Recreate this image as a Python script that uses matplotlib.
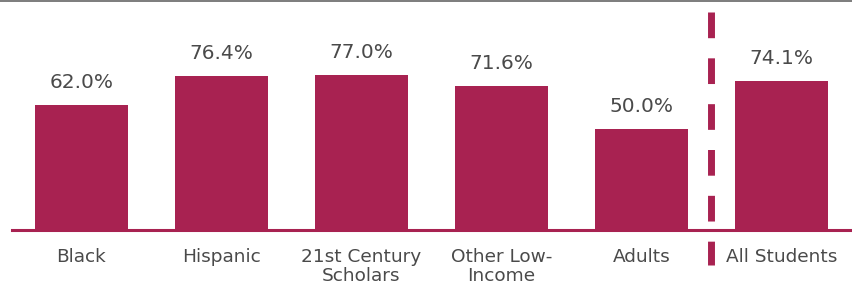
import matplotlib
matplotlib.use("Agg")
import matplotlib.pyplot as plt
from matplotlib.lines import Line2D

categories = ["Black", "Hispanic", "21st Century\nScholars", "Other Low-\nIncome", "Adults", "All Students"]
values = [62.0, 76.4, 77.0, 71.6, 50.0, 74.1]

bar_color = "#A82251"
text_color = "#4a4a4a"

plt.rcParams["font.family"] = ["DejaVu Sans"]

fig = plt.figure(figsize=(8.53, 2.89), dpi=100)
ax = fig.add_axes([11.5 / 853, 59 / 289, 840 / 853, 230 / 289])

x = list(range(len(categories)))
bars = ax.bar(x, values, width=0.664, color=bar_color, zorder=2)

for xi, v in zip(x, values):
    ax.text(xi, v + 6.5, f"{v:.1f}%", ha="center", va="bottom",
            fontsize=14.5, color=text_color)

ax.set_xlim(-0.5, 5.5)
ax.set_ylim(0, 114.1)
ax.set_yticks([])
ax.set_xticks(x)
ax.set_xticklabels(categories, fontsize=13.3, color=text_color, linespacing=1.1)
ax.tick_params(axis="x", length=0, pad=13)

for side in ["top", "left", "right"]:
    ax.spines[side].set_visible(False)
ax.spines["bottom"].set_color(bar_color)
ax.spines["bottom"].set_linewidth(2.2)

# dashed separator before the overall group
ax.plot([4.5, 4.5], [108.1, -17.4], color=bar_color, linewidth=5,
        linestyle=(0, (3.7, 2.9)), clip_on=False, zorder=3)

# thin grey rule along the top of the figure
fig.add_artist(Line2D([0, 1], [0.997, 0.997], transform=fig.transFigure,
                      color="#666666", linewidth=1.2))

fig.savefig("out.png", dpi=100)
